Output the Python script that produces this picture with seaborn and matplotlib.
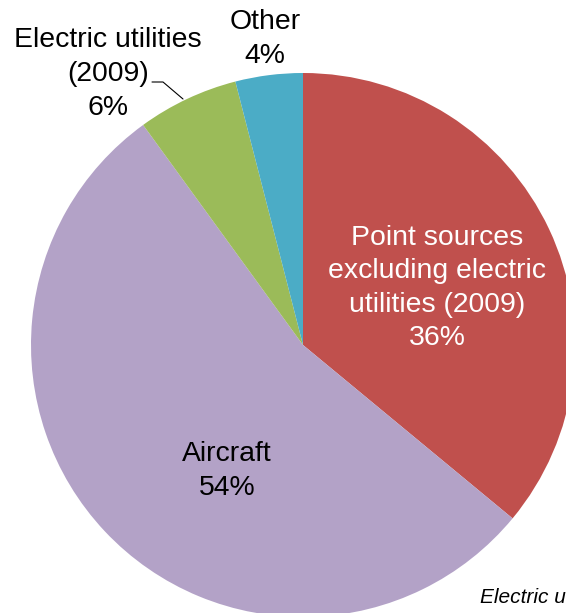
import matplotlib
matplotlib.use("Agg")
import matplotlib.pyplot as plt
import seaborn as sns

sns.set_theme(style="white")
plt.rcParams["font.family"] = ["Liberation Sans", "DejaVu Sans"]

# Emission shares by source category
categories = ["Point sources\nexcluding electric\nutilities (2009)", "Aircraft",
              "Electric utilities\n(2009)", "Other"]
shares = [36, 54, 6, 4]
colors = ["#C0504D", "#B3A2C7", "#9BBB59", "#4BACC6"]

W, H = 566, 613
fig = plt.figure(figsize=(W / 100, H / 100), dpi=100)
ax = fig.add_axes([0, 0, 1, 1])

ax.pie(shares, colors=colors, startangle=90, counterclock=False,
       center=(303, H - 345), radius=272, frame=True,
       wedgeprops=dict(linewidth=0))
ax.set_xlim(0, W)
ax.set_ylim(0, H)
ax.set_aspect("equal")
ax.axis("off")

fs = 20.4
label_pos = [(437, 288, "white"), (227, 471, "black"),
             (108, 74, "black"), (265, 39, "black")]
for cat, val, (x, y, c) in zip(categories, shares, label_pos):
    ax.text(x, H - y, f"{cat}\n{val}%", ha="center", va="center",
            fontsize=fs, color=c, linespacing=1.38)

# Leader line for the small electric utilities wedge
ax.plot([152, 163, 183], [H - 82, H - 82, H - 99], color="black", lw=0.8)

ax.text(480, H - 603, "Electric utilities", fontsize=15, style="italic",
        ha="left", va="baseline", color="black")

fig.savefig("out.png", dpi=100)
